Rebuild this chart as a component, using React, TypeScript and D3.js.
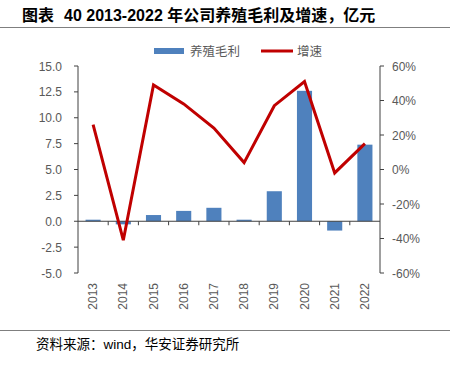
import React from "react";
import * as d3 from "d3";

const years = ["2013", "2014", "2015", "2016", "2017", "2018", "2019", "2020", "2021", "2022"];
const grossProfit = [0.15, -0.3, 0.6, 1.0, 1.3, 0.15, 2.9, 12.6, -0.9, 7.4];
const growth = [26, -41, 49, 38, 24, 4, 37, 51, -2, 15];
const leftTicks = [-5, -2.5, 0, 2.5, 5, 7.5, 10, 12.5, 15];
const rightTicks = [-60, -40, -20, 0, 20, 40, 60];

const FONT = "'Liberation Sans', Arial, 'Noto Sans CJK SC', sans-serif";
const CJK = "'Noto Sans CJK SC', 'Liberation Sans', sans-serif";
const GRAY = "#595959";

export default function App() {
  const left = 78, right = 380, top = 66, bottom = 273;
  const x = d3.scaleBand<string>().domain(years).range([left, right]).paddingInner(0.5).paddingOuter(0.25);
  const xb = d3.scaleBand<string>().domain(years).range([left, right]);
  const yL = d3.scaleLinear().domain([-5, 15]).range([bottom, top]);
  const yR = d3.scaleLinear().domain([-60, 60]).range([bottom, top]);
  const line = d3.line<number>().x((_, i) => (xb(years[i]) as number) + xb.bandwidth() / 2).y((d) => yR(d));
  const y0 = yL(0);

  return (
    <svg width={450} height={365} style={{ position: "absolute", left: 0, top: 0 }}>
      <rect width={450} height={365} fill="#fff" />
      <text x={22} y={21} fontFamily={CJK} fontWeight="bold" fontSize={16} fill="#000">
        图表<tspan dx={10} fontFamily={FONT}>40 2013-2022 </tspan>年公司养殖毛利及增速，亿元
      </text>
      <line x1={0} x2={450} y1={27.5} y2={27.5} stroke="#7f7f7f" strokeWidth={1} />

      {/* legend */}
      <rect x={154} y={48} width={30} height={6} fill="#4F81BD" />
      <text x={190} y={56} fontFamily={CJK} fontSize={12.5} fill={GRAY}>养殖毛利</text>
      <line x1={261} x2={293} y1={51} y2={51} stroke="#C00000" strokeWidth={3} />
      <text x={297} y={56} fontFamily={CJK} fontSize={12.5} fill={GRAY}>增速</text>

      {/* bars */}
      {grossProfit.map((v, i) => (
        <rect
          key={years[i]}
          x={x(years[i])}
          width={x.bandwidth()}
          y={Math.min(yL(v), y0)}
          height={Math.abs(yL(v) - y0)}
          fill="#4F81BD"
        />
      ))}

      {/* left axis */}
      <line x1={left} x2={left} y1={top} y2={bottom} stroke="#404040" strokeWidth={1} />
      {leftTicks.map((t) => (
        <g key={t}>
          <line x1={left - 4} x2={left} y1={yL(t)} y2={yL(t)} stroke="#404040" />
          <text x={62} y={yL(t) + 4.5} textAnchor="end" fontFamily={FONT} fontSize={12} fill={GRAY}>
            {t.toFixed(1)}
          </text>
        </g>
      ))}

      {/* right axis */}
      <line x1={right} x2={right} y1={top} y2={bottom} stroke="#404040" strokeWidth={1} />
      {rightTicks.map((t) => (
        <g key={t}>
          <line x1={right} x2={right + 4} y1={yR(t)} y2={yR(t)} stroke="#404040" />
          <text x={392} y={yR(t) + 4.5} textAnchor="start" fontFamily={FONT} fontSize={12} fill={GRAY}>
            {t}%
          </text>
        </g>
      ))}

      {/* x axis at zero */}
      <line x1={left} x2={right} y1={y0} y2={y0} stroke="#404040" strokeWidth={1} />
      {years.slice(1).map((yr) => (
        <line key={yr} x1={xb(yr)} x2={xb(yr)} y1={y0} y2={y0 + 4} stroke="#404040" />
      ))}
      {years.map((yr) => {
        const cx = (xb(yr) as number) + xb.bandwidth() / 2;
        return (
          <text
            key={yr}
            transform={`translate(${cx + 4},${283}) rotate(-90)`}
            textAnchor="end"
            fontFamily={FONT}
            fontSize={12}
            fill={GRAY}
          >
            {yr}
          </text>
        );
      })}

      {/* growth line */}
      <path d={line(growth) || ""} fill="none" stroke="#C00000" strokeWidth={3} strokeLinejoin="miter" />

      {/* footer */}
      <line x1={0} x2={450} y1={330.5} y2={330.5} stroke="#7f7f7f" strokeWidth={1} />
      <text x={36} y={349} fontFamily={CJK} fontSize={13.5} fill="#000">
        资料来源：<tspan fontFamily={FONT}>wind</tspan>，华安证券研究所
      </text>
    </svg>
  );
}
